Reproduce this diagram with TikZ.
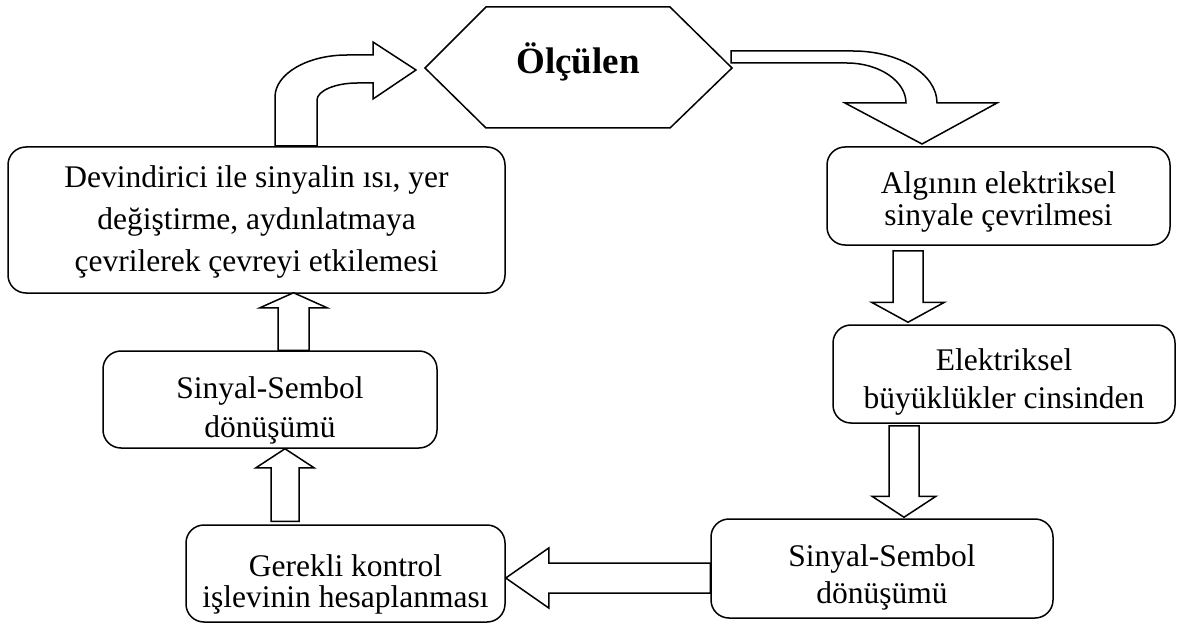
\documentclass[tikz,border=0pt]{standalone}
\usepackage{fontspec}
\setmainfont{Liberation Serif}
\usetikzlibrary{calc}

\tikzset{
  kutu/.style={draw, line width=1.5pt, rounded corners=18pt},
  yazi/.style={align=center, font=\fontsize{31.5}{#1}\selectfont},
  yazi/.default=37,
  blok/.style={draw, line width=1.5pt, fill=white, line join=miter},
}

% straight block arrow: from, to, half shaft, half head, head length
\newcommand{\blokok}[5]{%
  \coordinate (bh) at ($(#2)!#5!(#1)$);
  \draw[blok] ($(#1)!#3!90:(#2)$) -- ($(bh)!#3!90:(#2)$) -- ($(bh)!#4!90:(#2)$) -- (#2)
    -- ($(bh)!#4!-90:(#2)$) -- ($(bh)!#3!-90:(#2)$) -- ($(#1)!#3!-90:(#2)$) -- cycle;
}

\begin{document}
\begin{tikzpicture}[x=1pt,y=-1pt]
\useasboundingbox (0,0) rectangle (1179,623);

% hexagon
\draw[line width=1.5pt] (425,68) -- (486,7) -- (670,7) -- (732,68) -- (670,128) -- (486,128) -- cycle;
\node[anchor=base, font=\fontsize{37}{44}\selectfont\bfseries] (olc) at (578,74) {Ölçülen};

  \node[kutu, minimum width=497pt, minimum height=146pt] (act)  at (256.5,220)   {};
  \node[kutu, minimum width=343pt, minimum height=98pt]  (alg)  at (998.5,196)   {};
  \node[kutu, minimum width=342pt, minimum height=98pt]  (elk)  at (1004,374)    {};
  \node[kutu, minimum width=342pt, minimum height=99pt]  (sym2) at (882,568.5)   {};
  \node[kutu, minimum width=319pt, minimum height=97pt]  (ger)  at (345.5,573.5) {};
  \node[kutu, minimum width=334pt, minimum height=97pt]  (sym1) at (270,399.5)   {};

  \node[yazi=42] (act-t)  at ($(act)+(0,2)$)    {Devindirici ile sinyalin ısı, yer\\değiştirme, aydınlatmaya\\çevrilerek çevreyi etkilemesi};
  \node[yazi=32] (alg-t)  at ($(alg)+(0,5.5)$)  {Algının elektriksel\\sinyale çevrilmesi};
  \node[yazi=38] (elk-t)  at ($(elk)+(0,7.5)$)  {Elektriksel\\büyüklükler cinsinden};
  \node[yazi]    (sym2-t) at ($(sym2)+(0,8.5)$) {Sinyal-Sembol\\dönüşümü};
  \node[yazi=31] (ger-t)  at ($(ger)+(0,11)$)   {Gerekli kontrol\\işlevinin hesaplanması};
  \node[yazi=39] (sym1-t) at ($(sym1)+(0,11)$)  {Sinyal-Sembol\\dönüşümü};

% block arrows between boxes
\coordinate (d1a) at ($(alg.south)+(-90.5,5)$);
\coordinate (d1b) at ($(elk.north)+(-96,-2)$);
\blokok{d1a}{d1b}{15pt}{36.5pt}{20pt}
\coordinate (d2a) at ($(elk.south)+(-100,2)$);
\coordinate (d2b) at ($(sym2.north)+(22,-1)$);
\blokok{d2a}{d2b}{15pt}{32pt}{21pt}
\coordinate (l1a) at ($(sym2.west)+(0,9.5)$);
\coordinate (l1b) at ($(ger.east)+(0,4.5)$);
\blokok{l1a}{l1b}{15pt}{30pt}{43pt}
\coordinate (u1a) at ($(ger.north)+(-60.5,-3)$);
\coordinate (u1b) at ($(sym1.south)+(15,0)$);
\blokok{u1a}{u1b}{14pt}{29pt}{19pt}
\coordinate (u2a) at ($(sym1.north)+(23.5,0)$);
\coordinate (u2b) at ($(act.south)+(37,-1)$);
\blokok{u2a}{u2b}{15.5pt}{33.5pt}{15pt}

% curved arrows
\draw[blok] (275,146) -- (275,97) .. controls (275,74) and (307,55) .. (347,55) -- (373,55) -- (373,42)
  -- (416,70) -- (373,99) -- (373,83) -- (357,83) .. controls (335,83) and (317,91) .. (317,100) -- (317,146) -- cycle;
\draw[blok] (731,51) -- (853,51) .. controls (899,51) and (937,74) .. (937,103) -- (997,103) -- (922,144)
  -- (845,103) -- (906,103) .. controls (906,81) and (879,63) .. (847,63) -- (731,63) -- cycle;
\end{tikzpicture}
\end{document}
